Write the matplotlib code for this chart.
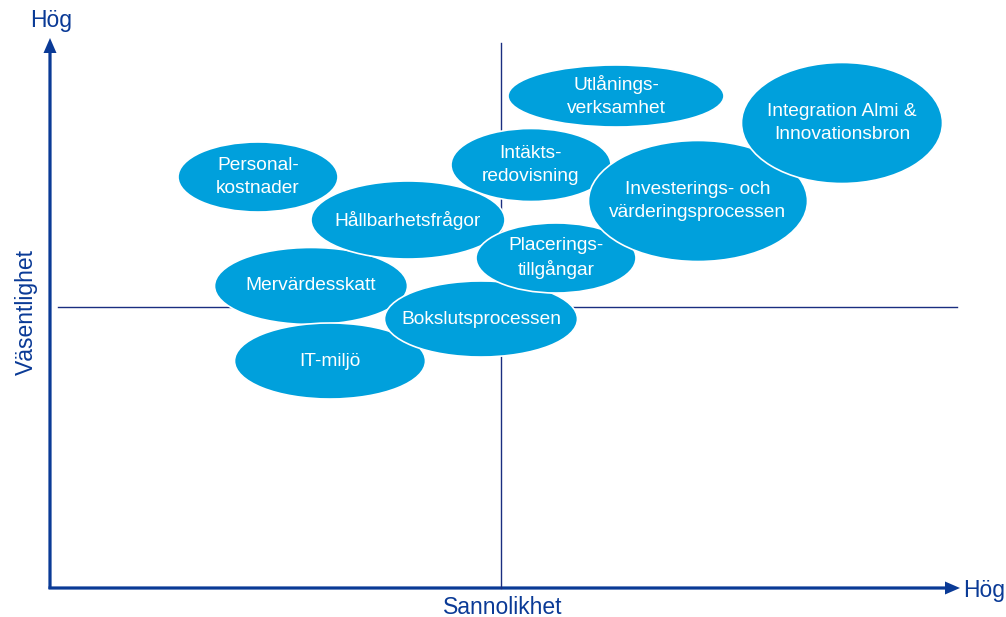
import matplotlib.pyplot as plt
from matplotlib.patches import Ellipse

plt.rcParams['font.family'] = ['Liberation Sans', 'DejaVu Sans']

# --- DATA (pixel-like units, y grows downward) ---
labels = ["Mervärdesskatt", "IT-miljö", "Bokslutsprocessen", "Hållbarhetsfrågor",
          "Personal-\nkostnader", "Placerings-\ntillgångar", "Intäkts-\nredovisning",
          "Investerings- och\nvärderingsprocessen", "Integration Almi &\nInnovationsbron",
          "Utlånings-\nverksamhet"]
cx = [311, 330, 481, 408, 258, 556, 531, 698, 842, 616]
cy = [286, 361, 319, 220, 177, 258, 165, 201, 123, 96]
ew = [193, 191, 193, 194, 160, 160, 160, 219, 201, 216]
eh = [77, 76, 76, 78, 70, 70, 73, 121, 121, 62]

BUBBLE = '#00A0DC'
NAVY = '#0A3A96'
W, H = 1006, 617

fig = plt.figure(figsize=(W / 100, H / 100), dpi=100)
ax = fig.add_axes([0, 0, 1, 1])
ax.set_xlim(0, W)
ax.set_ylim(H, 0)
ax.axis('off')

# quadrant lines
ax.plot([501, 501], [43, 588], color='#1A2E80', lw=1)
ax.plot([58, 957], [307, 307], color='#1A2E80', lw=1)

# bubbles
for i, lab in enumerate(labels):
    e = Ellipse((cx[i], cy[i]), ew[i], eh[i], facecolor=BUBBLE,
                edgecolor='white', lw=1.2, zorder=2 + i)
    ax.add_patch(e)
    ax.text(cx[i], cy[i], lab, color='white', fontsize=13.8, ha='center',
            va='center', linespacing=1.42, zorder=2 + i)

# main axes with arrows
ax.arrow(50, 589, 0, -551, width=3.2, head_width=13, head_length=15,
         length_includes_head=True, color=NAVY, lw=0)
ax.arrow(48.5, 588, 911.5, 0, width=3.2, head_width=13, head_length=15,
         length_includes_head=True, color=NAVY, lw=0)

ax.text(51, 21, 'Hög', color=NAVY, fontsize=16.5, ha='center', va='center')
ax.text(984, 590, 'Hög', color=NAVY, fontsize=16.5, ha='center', va='center')
ax.text(503, 607, 'Sannolikhet', color=NAVY, fontsize=16.5, ha='center', va='center')
ax.text(26, 312, 'Väsentlighet', color=NAVY, fontsize=16.5, ha='center',
        va='center', rotation=90)

fig.savefig('out.png', dpi=100)
